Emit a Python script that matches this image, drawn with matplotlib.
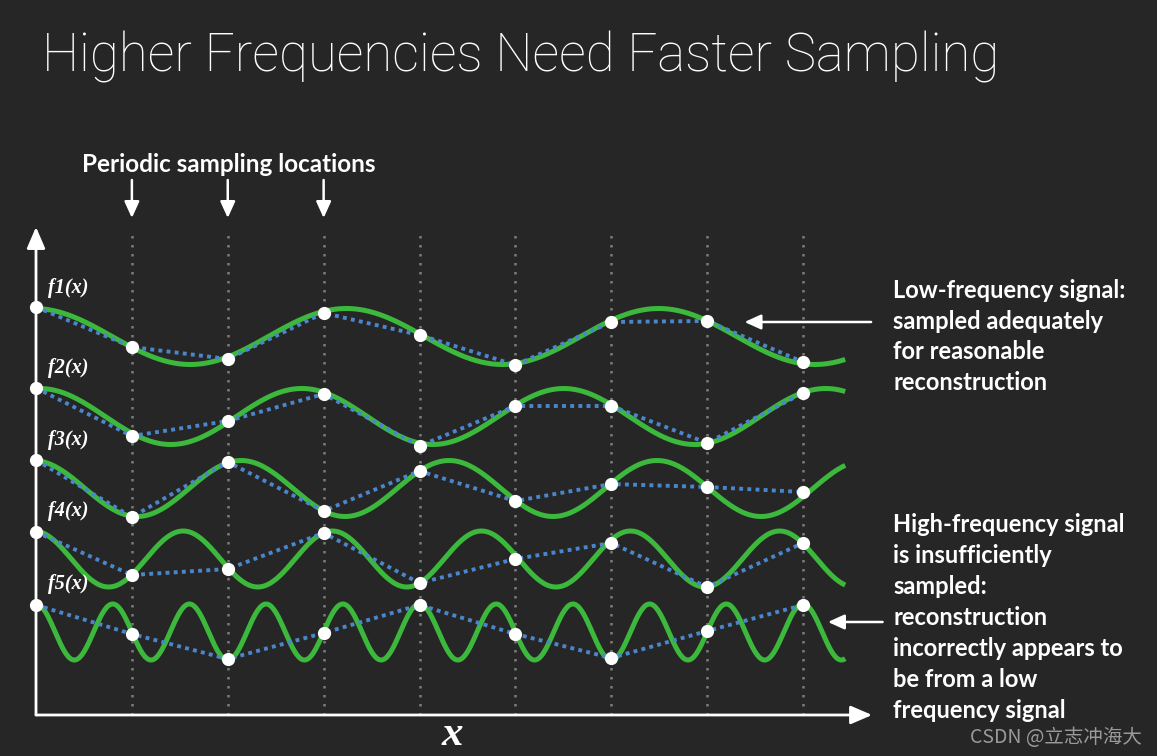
import numpy as np
import matplotlib
matplotlib.use("Agg")
import matplotlib.pyplot as plt

# sample positions (in units of the sampling interval)
samples = [0, 1, 2, 3, 4, 5, 6, 7, 8]

# signal parameters: cycles per sample, peak offset, baseline, amplitude
freqs = [0.307, 0.366, 0.461, 0.643, 1.25]
phases = [-0.02, 0.04, -0.03, -0.02, 0.0]
levels = [37.85, 29.85, 22.65, 15.6, 8.3]
amps = [2.8, 2.8, 2.8, 2.8, 2.8]
curve_end = 8.44

# sampled values (white dots)
f1_vals = [40.8, 36.8, 35.6, 40.2, 38.0, 35.0, 39.3, 39.4, 35.3]
f2_vals = [32.7, 27.9, 29.4, 32.1, 26.9, 30.9, 30.9, 27.2, 32.2]
f3_vals = [25.5, 19.8, 25.3, 20.4, 24.4, 21.4, 23.1, 22.8, 22.3]
f4_vals = [18.3, 14.0, 14.6, 18.2, 13.2, 15.6, 17.2, 12.8, 17.2]
f5_vals = [11.0, 8.1, 5.6, 8.2, 11.0, 8.1, 5.7, 8.4, 11.0]
sample_vals = [f1_vals, f2_vals, f3_vals, f4_vals, f5_vals]

labels = ["f1(x)", "f2(x)", "f3(x)", "f4(x)", "f5(x)"]

title = "Higher Frequencies Need Faster Sampling"
top_note = "Periodic sampling locations"
low_note = "Low-frequency signal:\nsampled adequately\nfor reasonable\nreconstruction"
high_note = ("High-frequency signal\nis insufficiently\nsampled:\nreconstruction\n"
             "incorrectly appears to\nbe from a low\nfrequency signal")

bg = "#262626"
green = "#3cb93c"
blue = "#4a86cc"

fig = plt.figure(figsize=(11.57, 7.56), dpi=100, facecolor=bg)
ax = fig.add_axes([0, 0, 1, 1])
ax.set_facecolor(bg)
ax.set_xlim(-0.3755, 11.692)
ax.set_ylim(-4.1, 71.5)
ax.axis("off")

# sampling grid
ax.vlines(samples[1:], 0, 48.5, colors="#7a7a7a", linestyles=(0, (1, 2.6)), linewidth=1.8, zorder=1)

xs = np.linspace(0, curve_end, 800)
for i in range(5):
    ys = levels[i] + amps[i] * np.cos(2 * np.pi * freqs[i] * (xs - phases[i]))
    ax.plot(xs, ys, color=green, linewidth=3.6, solid_capstyle="butt", zorder=2)
    ax.plot(samples, sample_vals[i], color=blue, linewidth=2.8, linestyle=(0, (1, 1.1)),
            dash_capstyle="butt", zorder=3)
    ax.plot(samples, sample_vals[i], "o", color="white", markersize=9.5, markeredgewidth=0, zorder=4)
    ax.text(0.13, levels[i] + 4.8, labels[i], color="white", fontsize=14.5,
            family="Liberation Serif", style="italic", weight="bold", va="center", ha="left")

# axes with arrow heads
axis_arrow = dict(arrowstyle="-|>,head_length=0.65,head_width=0.28", color="white", lw=2,
                  mutation_scale=20, shrinkA=0, shrinkB=0)
small_arrow = dict(arrowstyle="-|>,head_length=0.55,head_width=0.25", color="white", lw=1.8,
                   mutation_scale=18, shrinkA=0, shrinkB=0)
ax.annotate("", xy=(8.72, 0), xytext=(0, 0), arrowprops=axis_arrow)
ax.annotate("", xy=(0, 48.8), xytext=(0, 0), arrowprops=axis_arrow)
ax.text(4.34, -2.0, "x", color="white", fontsize=31, family="Liberation Serif",
        style="italic", weight="bold", ha="center", va="center")

# title and notes
fig.text(0.036, 0.925, title, color="white", fontsize=38, family="Roboto", weight="light",
         ha="left", va="center")
ax.text(0.48, 55.0, top_note, color="white", fontsize=17.5, family="Lato", weight="bold",
        ha="left", va="center")
for s in samples[1:4]:
    ax.annotate("", xy=(s, 49.7), xytext=(s, 53.5), arrowprops=small_arrow)

ax.text(8.94, 43.6, low_note, color="white", fontsize=17, family="Lato", weight="bold",
        ha="left", va="top", linespacing=1.4)
ax.annotate("", xy=(7.39, 39.3), xytext=(8.71, 39.3), arrowprops=small_arrow)

ax.text(8.94, 20.2, high_note, color="white", fontsize=17, family="Lato", weight="bold",
        ha="left", va="top", linespacing=1.42)
ax.annotate("", xy=(8.26, 9.3), xytext=(8.83, 9.3), arrowprops=small_arrow)

fig.text(0.838, 0.025, "CSDN @立志冲海大", color="#9a9a9a", fontsize=14,
         family=["Noto Sans CJK SC", "DejaVu Sans"], ha="left", va="center")

fig.savefig("out.png", dpi=100, facecolor=bg)
